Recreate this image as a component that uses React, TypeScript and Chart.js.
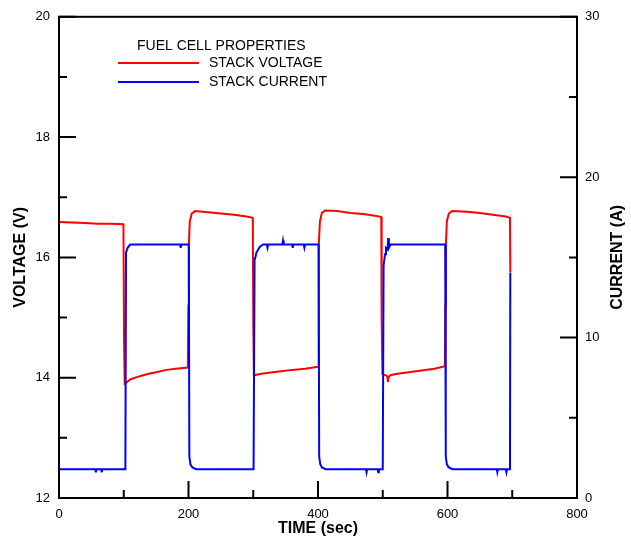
import React, { useEffect, useRef } from "react";
import { Chart, registerables } from "chart.js";

Chart.register(...registerables);

const FONT = "'Liberation Sans', Arial, Helvetica, sans-serif";

// Stack voltage (V) vs time (sec)
const timeV = [
  0, 20, 40, 60, 80, 99.5,
  100.5, 101.5, 103, 110, 120, 130, 140, 150, 166, 180, 199,
  199.7, 200.5, 202, 205, 210, 230, 250, 270, 290, 299.3,
  300, 301, 305, 315, 330, 346, 360, 380, 400,
  400.7, 401.5, 403, 406, 411, 430, 450, 470, 490, 497.7,
  498.3, 499.5, 505, 507, 508, 509.5, 512, 520, 540, 560, 580, 596,
  596.7, 597.5, 599, 602, 607, 630, 650, 670, 690, 696.5, 697,
];
const voltage = [
  16.59, 16.58, 16.57, 16.56, 16.56, 16.55,
  14.6, 13.9, 13.91, 13.97, 14.01, 14.04, 14.07, 14.09, 14.13, 14.15, 14.17,
  15.2, 16.2, 16.6, 16.73, 16.77, 16.75, 16.73, 16.71, 16.68, 16.66,
  15.0, 14.04, 14.05, 14.07, 14.09, 14.11, 14.13, 14.15, 14.18,
  15.2, 16.2, 16.6, 16.74, 16.78, 16.77, 16.74, 16.72, 16.69, 16.67,
  15.0, 14.06, 14.04, 14.02, 13.93, 14.02, 14.04, 14.06, 14.09, 14.12, 14.15, 14.19,
  15.2, 16.2, 16.6, 16.73, 16.77, 16.76, 16.74, 16.71, 16.68, 16.66, 15.75,
];

// Stack current (A) vs time (sec)
const timeI = [
  0, 30, 56, 57, 58, 65, 66, 67, 102.5,
  103.5, 106, 110, 150, 187, 188, 189, 200.5,
  201.3, 203, 206, 212, 260, 300.5,
  302, 305, 310, 315, 321, 322, 323, 345, 346, 347, 360, 361, 362, 378, 379, 380, 401,
  401.8, 403.5, 406, 412, 474, 475, 476, 492, 493, 494, 500,
  501.3, 503.5, 505, 507.5, 508.5, 509.5, 512, 550, 596.5,
  597.3, 599, 602, 608, 676, 677, 678, 690, 691, 692, 696.5, 697,
];
const current = [
  1.8, 1.8, 1.8, 1.6, 1.8, 1.8, 1.6, 1.8, 1.8,
  15.3, 15.6, 15.8, 15.8, 15.8, 15.6, 15.8, 15.8,
  2.6, 2.1, 1.9, 1.8, 1.8, 1.8,
  14.8, 15.3, 15.65, 15.8, 15.8, 15.6, 15.8, 15.8, 16.05, 15.8, 15.8, 15.6, 15.8, 15.8, 15.6, 15.8, 15.8,
  2.6, 2.1, 1.9, 1.8, 1.8, 1.6, 1.8, 1.8, 1.6, 1.8, 1.8,
  14.5, 15.2, 15.6, 15.5, 16.2, 15.6, 15.8, 15.8, 15.8,
  2.6, 2.1, 1.9, 1.8, 1.8, 1.6, 1.8, 1.8, 1.6, 1.8, 1.8, 14.05,
];

const xMajor = [0, 200, 400, 600, 800];
const xMinor = [100, 300, 500, 700];
const vMajor = [12, 14, 16, 18, 20];
const vMinor = [13, 15, 17, 19];
const iMajor = [0, 10, 20, 30];
const iMinor = [5, 15, 25];

const legendTitle = "FUEL CELL PROPERTIES";
const seriesNames = ["STACK VOLTAGE", "STACK CURRENT"];
const seriesColors = ["#ff0000", "#0000ff"];
const axisTitles = { x: "TIME (sec)", y: "VOLTAGE (V)", y1: "CURRENT (A)" };

export default function App() {
  const ref = useRef<HTMLCanvasElement>(null);

  useEffect(() => {
    document.body.style.margin = "0";
    const canvas = ref.current;
    if (!canvas) return;

    const framePlugin = {
      id: "frame",
      afterDatasetsDraw(chart: any) {
        const { ctx, chartArea: a, scales } = chart;
        ctx.save();
        ctx.strokeStyle = "#000";
        ctx.lineWidth = 2;
        ctx.strokeRect(a.left, a.top, a.right - a.left, a.bottom - a.top);
        ctx.beginPath();
        const major = 17;
        const minor = 8;
        xMajor.forEach((v) => {
          const p = scales.x.getPixelForValue(v);
          ctx.moveTo(p, a.bottom);
          ctx.lineTo(p, a.bottom - major);
        });
        xMinor.forEach((v) => {
          const p = scales.x.getPixelForValue(v);
          ctx.moveTo(p, a.bottom);
          ctx.lineTo(p, a.bottom - minor);
        });
        vMajor.forEach((v) => {
          const p = scales.y.getPixelForValue(v);
          ctx.moveTo(a.left, p);
          ctx.lineTo(a.left + major, p);
        });
        vMinor.forEach((v) => {
          const p = scales.y.getPixelForValue(v);
          ctx.moveTo(a.left, p);
          ctx.lineTo(a.left + minor, p);
        });
        iMajor.forEach((v) => {
          const p = scales.y1.getPixelForValue(v);
          ctx.moveTo(a.right, p);
          ctx.lineTo(a.right - major, p);
        });
        iMinor.forEach((v) => {
          const p = scales.y1.getPixelForValue(v);
          ctx.moveTo(a.right, p);
          ctx.lineTo(a.right - minor, p);
        });
        ctx.stroke();

        // right axis title (reads bottom to top)
        ctx.fillStyle = "#000";
        ctx.font = `bold 16px ${FONT}`;
        ctx.textAlign = "center";
        ctx.textBaseline = "middle";
        ctx.translate(618, (a.top + a.bottom) / 2);
        ctx.rotate(-Math.PI / 2);
        ctx.fillText(axisTitles.y1, 0, 0);
        ctx.restore();

        // legend
        ctx.save();
        ctx.fillStyle = "#000";
        ctx.font = `14px ${FONT}`;
        ctx.textAlign = "left";
        ctx.textBaseline = "middle";
        ctx.fillText(legendTitle, 137, 46);
        seriesNames.forEach((name, i) => {
          const y = 63 + i * 19;
          ctx.strokeStyle = seriesColors[i];
          ctx.lineWidth = 2;
          ctx.beginPath();
          ctx.moveTo(118, y);
          ctx.lineTo(199, y);
          ctx.stroke();
          ctx.fillText(name, 209, y);
        });
        ctx.restore();
      },
    };

    const tickFont = { family: FONT, size: 13 };
    const titleFont = { family: FONT, size: 16, weight: "bold" as const };

    const chart = new Chart(canvas, {
      type: "scatter",
      data: {
        datasets: [
          {
            label: seriesNames[0],
            data: timeV.map((t, i) => ({ x: t, y: voltage[i] })),
            borderColor: seriesColors[0],
            backgroundColor: seriesColors[0],
            borderWidth: 2,
            pointRadius: 0,
            showLine: true,
            yAxisID: "y",
            order: 1,
          },
          {
            label: seriesNames[1],
            data: timeI.map((t, i) => ({ x: t, y: current[i] })),
            borderColor: seriesColors[1],
            backgroundColor: seriesColors[1],
            borderWidth: 2,
            pointRadius: 0,
            showLine: true,
            yAxisID: "y1",
            order: 0,
          },
        ],
      },
      options: {
        responsive: false,
        animation: false,
        devicePixelRatio: 1,
        layout: { padding: { top: 15, left: 0, right: 0, bottom: 0 } },
        plugins: {
          legend: { display: false },
          tooltip: { enabled: false },
        },
        scales: {
          x: {
            type: "linear",
            position: "bottom",
            min: 0,
            max: 800,
            ticks: { stepSize: 200, font: tickFont, color: "#000", padding: 9, maxRotation: 0, autoSkip: false },
            grid: { display: false, drawTicks: false },
            border: { display: false },
            title: { display: true, text: axisTitles.x, font: titleFont, color: "#000", padding: { top: 0, bottom: -2 } },
            afterFit: (s: any) => {
              s.height = 38;
            },
          },
          y: {
            type: "linear",
            position: "left",
            min: 12,
            max: 20,
            ticks: { stepSize: 2, font: tickFont, color: "#000", padding: 9 },
            grid: { display: false, drawTicks: false },
            border: { display: false },
            title: { display: true, text: axisTitles.y, font: titleFont, color: "#000", padding: { top: 11, bottom: 0 } },
            afterFit: (s: any) => {
              s.width = 59;
            },
          },
          y1: {
            type: "linear",
            position: "right",
            min: 0,
            max: 30,
            ticks: { stepSize: 10, font: tickFont, color: "#000", padding: 8 },
            grid: { display: false, drawTicks: false },
            border: { display: false },
            afterFit: (s: any) => {
              s.width = 54;
            },
          },
        },
      },
      plugins: [framePlugin],
    });

    return () => chart.destroy();
  }, []);

  return (
    <div style={{ width: 631, height: 536 }}>
      <canvas ref={ref} width={631} height={536} style={{ display: "block" }} />
    </div>
  );
}
